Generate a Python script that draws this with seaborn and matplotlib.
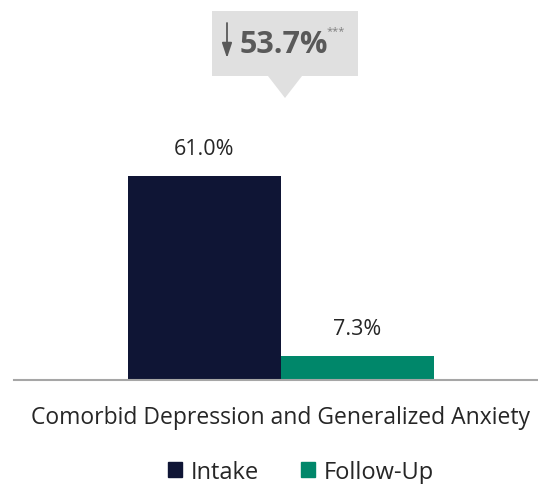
import matplotlib
matplotlib.use("Agg")
import matplotlib.pyplot as plt
import matplotlib.patches as mpatches
import matplotlib.transforms as mtransforms
import seaborn as sns
import pandas as pd

category = ["Comorbid Depression and Generalized Anxiety"]
groups = ["Intake", "Follow-Up"]
values = [61.0, 7.3]
value_labels = ["61.0%", "7.3%"]
change_label = "53.7%"
significance = "***"

colors = {"Intake": "#0f1535", "Follow-Up": "#00876a"}

sns.set_style("white")
plt.rcParams["font.family"] = ["Open Sans", "DejaVu Sans"]

df = pd.DataFrame({"category": category * len(groups), "group": groups, "value": values})

W, H = 538, 485
fig = plt.figure(figsize=(W / 100, H / 100), dpi=100)
ax = fig.add_axes([14 / W, 104 / H, 1 - 14 / W, 1 - 104 / H])

sns.barplot(data=df, x="category", y="value", hue="group", palette=colors,
            width=0.8, saturation=1, linewidth=0, ax=ax, legend=False)

ax.set_xlim(-0.698, 0.672)
ax.set_ylim(0, 113.9)
for s in ["top", "right", "left"]:
    ax.spines[s].set_visible(False)
ax.spines["bottom"].set_color("#a6a6a6")
ax.spines["bottom"].set_linewidth(1.5)
ax.set_yticks([])
ax.set_ylabel("")
ax.set_xlabel("")
ax.tick_params(axis="x", length=0, pad=18, labelsize=16.5, labelcolor="#262626")

# value labels above bars
for bar, lab in zip(ax.patches, value_labels):
    ax.annotate(lab, (bar.get_x() + bar.get_width() / 2, bar.get_height()),
                xytext=(0, 12), textcoords="offset points", ha="center", va="bottom",
                fontsize=15.5, color="#262626")

# callout box with pointer, in pixel coords
px = mtransforms.Affine2D().scale(1 / W, 1 / H) + fig.transFigure
def P(x, y):
    return (x, H - y)
box = mpatches.Polygon([P(212, 12), P(358, 12), P(358, 77), P(302, 77), P(285, 99),
                        P(268, 77), P(212, 77)], closed=True, transform=px,
                       facecolor="#e0e0e0", edgecolor="none", zorder=1)
fig.patches.append(box)
arrow = mpatches.FancyArrowPatch(P(227, 24), P(227, 59), transform=px,
                                 arrowstyle="-|>,head_length=9,head_width=3",
                                 mutation_scale=1, lw=1.3, color="#595959",
                                 shrinkA=0, shrinkB=0, zorder=5)
fig.patches.append(arrow)
fig.text(240 / W, (H - 45) / H, change_label, ha="left", va="center",
         fontsize=22, fontweight="bold", color="#595959", zorder=5)
fig.text(327 / W, (H - 32) / H, significance, ha="left", va="center",
         fontsize=8, color="#7f7f7f", zorder=5)

handles = [mpatches.Patch(color=colors[g], label=g) for g in groups]
fig.legend(handles=handles, loc="center", bbox_to_anchor=(301 / W, (H - 473) / H), ncol=2,
           frameon=False, fontsize=17, handlelength=0.6, handleheight=0.6,
           handletextpad=0.35, columnspacing=1.8, labelcolor="#262626")

fig.savefig("out.png", dpi=100)
